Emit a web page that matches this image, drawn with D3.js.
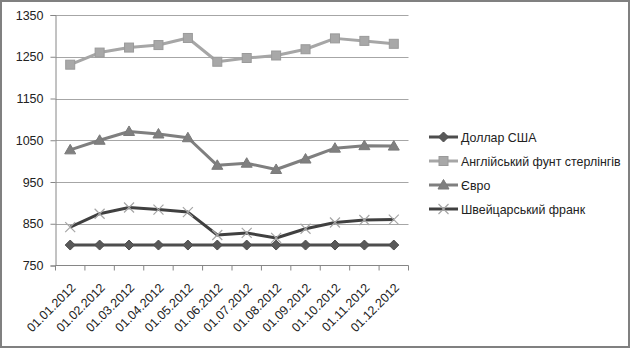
<!DOCTYPE html>
<html>
<head>
<meta charset="utf-8">
<script src="https://cdn.jsdelivr.net/npm/d3@7"></script>
<style>
  html, body { margin: 0; padding: 0; background: #fff; }
  svg { display: block; font-family: "Liberation Sans", Arial, sans-serif; }
</style>
</head>
<body>
<svg id="chart" width="631" height="348"></svg>
<script>
// Monthly exchange rates, 2012
const dates = ["01.01.2012","01.02.2012","01.03.2012","01.04.2012","01.05.2012","01.06.2012",
               "01.07.2012","01.08.2012","01.09.2012","01.10.2012","01.11.2012","01.12.2012"];
const usd = [799, 799, 799, 799, 799, 799, 799, 799, 799, 799, 799, 799];
const gbp = [1231, 1260, 1272, 1278, 1295, 1238, 1247, 1253, 1268, 1294, 1288, 1281];
const eur = [1027, 1050, 1071, 1065, 1056, 990, 995, 980, 1005, 1031, 1037, 1036];
const chf = [842, 874, 889, 884, 878, 823, 828, 816, 838, 853, 859, 860];
const seriesNames = ["Доллар США", "Англійський фунт стерлінгів", "Євро", "Швейцарський франк"];
const yTicks = [750, 850, 950, 1050, 1150, 1250, 1350];

const svg = d3.select("#chart");
const W = 631, H = 348;

// outer frame
svg.append("rect").attr("x", 1).attr("y", 1).attr("width", W - 3).attr("height", H - 2)
  .attr("fill", "#fff").attr("stroke", "#808080").attr("stroke-width", 2);

const plot = { left: 55.5, right: 408.5, top: 15, bottom: 265.5 };

const x = d3.scaleBand().domain(dates).range([plot.left, plot.right]);
const y = d3.scaleLinear().domain([750, 1350]).range([plot.bottom, plot.top]);

// horizontal gridlines
svg.append("g").selectAll("line").data(yTicks.slice(1)).join("line")
  .attr("x1", plot.left).attr("x2", plot.right)
  .attr("y1", d => Math.round(y(d)) + 0.5).attr("y2", d => Math.round(y(d)) + 0.5)
  .attr("stroke", "#a6a6a6").attr("stroke-width", 1);

// y axis
const yAxis = svg.append("g").attr("transform", `translate(${plot.left},0)`)
  .call(d3.axisLeft(y).tickValues(yTicks).tickSize(5).tickPadding(7).tickFormat(d3.format("d")));
yAxis.select(".domain").attr("stroke", "#868686");
yAxis.selectAll(".tick line").attr("stroke", "#868686");
yAxis.selectAll(".tick text").attr("font-size", 12.5).attr("fill", "#222")
  .attr("font-family", "Liberation Sans, Arial, sans-serif");

// x axis with ticks at category boundaries
const xg = svg.append("g").attr("transform", `translate(0,${plot.bottom})`);
xg.append("line").attr("x1", plot.left).attr("x2", plot.right).attr("y1", 0).attr("y2", 0)
  .attr("stroke", "#868686");
const bounds = dates.map(d => x(d)).concat([x(dates[dates.length - 1]) + x.bandwidth()]);
xg.selectAll("line.tk").data(bounds).join("line").attr("class", "tk")
  .attr("x1", d => d).attr("x2", d => d).attr("y1", 0).attr("y2", 5).attr("stroke", "#868686");
xg.selectAll("text").data(dates).join("text")
  .attr("transform", d => `translate(${x(d) + x.bandwidth() / 2 + 3},${20}) rotate(-45)`)
  .attr("text-anchor", "end").attr("dy", "0.35em")
  .attr("font-size", 12.5).attr("fill", "#222").text(d => d);

const cx = d => x(d) + x.bandwidth() / 2;

const styles = [
  { data: usd, line: "#4d4d4d", width: 3, marker: "diamond", mfill: "#595959", mstroke: "#4d4d4d" },
  { data: gbp, line: "#a6a6a6", width: 3, marker: "square", mfill: "#a8a8a8", mstroke: "#9a9a9a" },
  { data: eur, line: "#7f7f7f", width: 3, marker: "triangle", mfill: "#808080", mstroke: "#7a7a7a" },
  { data: chf, line: "#404040", width: 3, marker: "x", mfill: "none", mstroke: "#a6a6a6" }
];

function drawMarker(g, type, px, py, s) {
  if (type === "diamond") {
    g.append("path").attr("d", `M${px},${py - 5}L${px + 5},${py}L${px},${py + 5}L${px - 5},${py}Z`)
      .attr("fill", s.mfill).attr("stroke", s.mstroke).attr("stroke-width", 1);
  } else if (type === "square") {
    g.append("rect").attr("x", px - 4.5).attr("y", py - 4.5).attr("width", 9).attr("height", 9)
      .attr("fill", s.mfill).attr("stroke", s.mstroke).attr("stroke-width", 1);
  } else if (type === "triangle") {
    g.append("path").attr("d", `M${px},${py - 5.5}L${px + 5.5},${py + 4}L${px - 5.5},${py + 4}Z`)
      .attr("fill", s.mfill).attr("stroke", s.mstroke).attr("stroke-width", 1);
  } else if (type === "x") {
    g.append("path").attr("d", `M${px - 5},${py - 5}L${px + 5},${py + 5}M${px - 5},${py + 5}L${px + 5},${py - 5}`)
      .attr("fill", "none").attr("stroke", s.mstroke).attr("stroke-width", 1.2);
  }
}

const lineGen = d3.line().x((d, i) => cx(dates[i])).y(d => y(d));

styles.forEach(s => {
  const g = svg.append("g");
  g.append("path").datum(s.data).attr("d", lineGen)
    .attr("fill", "none").attr("stroke", s.line).attr("stroke-width", s.width)
    .attr("stroke-linejoin", "round");
  s.data.forEach((v, i) => drawMarker(g, s.marker, cx(dates[i]), y(v), s));
});

// legend
const legendY = [137, 161, 185, 209];
const lg = svg.append("g");
styles.forEach((s, i) => {
  const ly = legendY[i];
  lg.append("line").attr("x1", 429).attr("x2", 458).attr("y1", ly).attr("y2", ly)
    .attr("stroke", s.line).attr("stroke-width", 3);
  drawMarker(lg, s.marker, 443.5, ly, s);
  lg.append("text").attr("x", 461).attr("y", ly).attr("dy", "0.4em")
    .attr("font-size", 12.4).attr("fill", "#222").text(seriesNames[i]);
});
</script>
</body>
</html>
